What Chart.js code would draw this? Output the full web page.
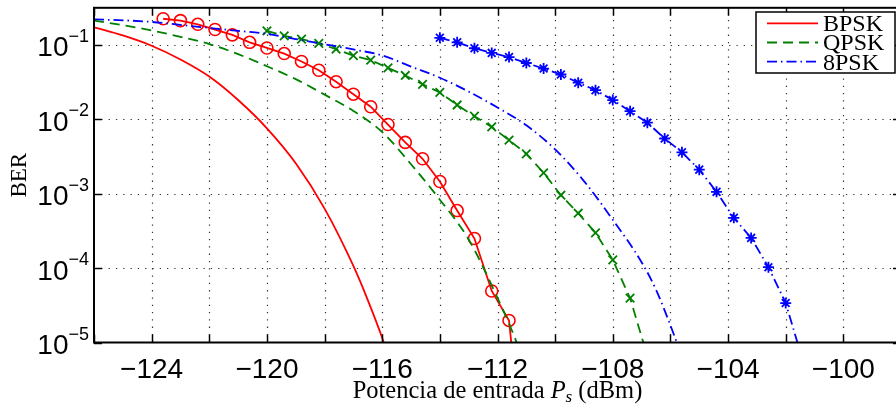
<!DOCTYPE html>
<html><head><meta charset="utf-8">
<script src="https://cdn.jsdelivr.net/npm/chart.js@4.4.1/dist/chart.umd.min.js"></script>
<style>
html,body{margin:0;padding:0;background:#fff;overflow:hidden;width:896px;height:412px}
#wrap{position:absolute;left:0;top:0;width:912px;height:412px}
</style>
</head><body><div id="wrap"><canvas id="c" width="912" height="412"></canvas></div>
<script>
// ---- axis ticks ----
const xTickValues = [-124, -120, -116, -112, -108, -104, -100];
const yTickValues = [1e-1, 1e-2, 1e-3, 1e-4, 1e-5];
const yTickExponents = ['\u22121', '\u22122', '\u22123', '\u22124', '\u22125'];
const legendLabels = ['BPSK', 'QPSK', '8PSK'];

// ---- theoretical curves (no markers) ----
const bpskTheoryPs  = [-126,-125,-124,-123,-122,-121,-120,-119,-118,-117,-116.5,-116,-115.5];
const bpskTheoryBER = [0.1730,0.1343,0.0977,0.0638,0.0376,0.0182,0.00759,0.00257,6.31e-4,1.07e-4,3.72e-5,1.15e-5,2.82e-6];

const qpskTheoryPs  = [-126,-125,-124,-123,-122,-121,-120,-119,-118,-117,-116,-115,-114,-113,-112,-111.5,-111];
const qpskTheoryBER = [0.2123,0.1845,0.1567,0.1288,0.1030,0.0753,0.0518,0.0347,0.0215,0.0130,0.00676,0.00249,8.32e-4,2.43e-4,3.98e-5,1.45e-5,4.57e-6];

const psk8TheoryPs  = [-126,-125,-124,-123,-122,-121,-120,-119,-118,-117,-116,-115,-114,-113,-112,-111,-110,-109,-108,-107,-106.5,-106,-105.5];
const psk8TheoryBER = [0.2208,0.2148,0.2042,0.1862,0.1698,0.1549,0.1413,0.1202,0.1023,0.0871,0.0724,0.0513,0.0363,0.0236,0.01445,0.00832,0.00394,0.00148,4.47e-4,1.20e-4,5.13e-5,1.70e-5,5.0e-6];

// ---- simulated points (markers) ----
const bpskSimPs  = [-123.6,-123.0,-122.4,-121.8,-121.2,-120.6,-120.0,-119.4,-118.8,-118.2,-117.6,-117.0,-116.4,-115.8,-115.2,-114.6,-114.0,-113.4,-112.8,-112.2,-111.6,-111.0];
const bpskSimBER = [0.2254,0.2123,0.1897,0.1614,0.1368,0.1086,0.0912,0.0767,0.0601,0.0457,0.0321,0.0218,0.0148,0.00853,0.00490,0.00295,0.00146,5.94e-4,2.50e-4,4.93e-5,1.98e-5,1e-7];

const qpskSimPs  = [-120.0,-119.4,-118.8,-118.2,-117.6,-117.0,-116.4,-115.8,-115.2,-114.6,-114.0,-113.4,-112.8,-112.2,-111.6,-111.0,-110.4,-109.8,-109.2,-108.6,-108.0,-107.4,-106.8];
const qpskSimBER = [0.1545,0.1327,0.1199,0.1054,0.0877,0.0721,0.0627,0.0491,0.0389,0.0296,0.0230,0.01560,0.01104,0.00791,0.00526,0.00344,0.00191,9.55e-4,5.47e-4,2.98e-4,1.29e-4,3.95e-5,6.6e-6];

const psk8SimPs  = [-114.0,-113.4,-112.8,-112.2,-111.6,-111.0,-110.4,-109.8,-109.2,-108.6,-108.0,-107.4,-106.8,-106.2,-105.6,-105.0,-104.4,-103.8,-103.2,-102.6,-102.0,-101.4];
const psk8SimBER = [0.1250,0.1086,0.0904,0.0783,0.0687,0.0573,0.0482,0.0401,0.0311,0.0247,0.01816,0.01288,0.00902,0.00553,0.00361,0.00211,0.00106,4.74e-4,2.55e-4,1.03e-4,3.39e-5,5.6e-6];

const pts = (xs, ys) => xs.map((v, i) => ({x: v, y: ys[i]}));

const RED = '#ff0000', GREEN = '#008000', BLUE = '#0000ff';
const DASH = [10, 6], DASHDOT = [10, 4, 1.5, 4];

const datasets = [
  {label: legendLabels[0], legend: true, data: pts(bpskTheoryPs, bpskTheoryBER), borderColor: RED, borderWidth: 1.8, pointRadius: 0, cubicInterpolationMode: 'monotone'},
  {label: legendLabels[1], legend: true, data: pts(qpskTheoryPs, qpskTheoryBER), borderColor: GREEN, borderWidth: 1.8, borderDash: DASH, pointRadius: 0, cubicInterpolationMode: 'monotone'},
  {label: legendLabels[2], legend: true, data: pts(psk8TheoryPs, psk8TheoryBER), borderColor: BLUE, borderWidth: 1.8, borderDash: DASHDOT, pointRadius: 0, cubicInterpolationMode: 'monotone'},
  {label: 'BPSK sim', data: pts(bpskSimPs, bpskSimBER), borderColor: RED, borderWidth: 1.8, pointStyle: 'circle', pointRadius: 6, pointBorderWidth: 1.6, pointBorderColor: RED, pointBackgroundColor: 'rgba(0,0,0,0)'},
  {label: 'QPSK sim', data: pts(qpskSimPs, qpskSimBER), borderColor: GREEN, borderWidth: 1.8, borderDash: DASH, pointStyle: 'crossRot', pointRadius: 6, pointBorderWidth: 1.8, pointBorderColor: GREEN, pointBackgroundColor: 'rgba(0,0,0,0)'},
  {label: '8PSK sim', data: pts(psk8SimPs, psk8SimBER), borderColor: BLUE, borderWidth: 1.8, borderDash: DASHDOT, pointStyle: 'star', pointRadius: 5.5, pointBorderWidth: 1.8, pointBorderColor: BLUE, pointBackgroundColor: 'rgba(0,0,0,0)'}
];

const CHART_RIGHT_PAD = 9;
const SANS = '"Liberation Sans", Arial, sans-serif';
const SERIF = '"Liberation Serif", "Times New Roman", serif';

const matlabPlugin = {
  id: 'matlab',
  beforeDatasetsDraw(chart) {
    const {ctx, chartArea: a, scales: {x, y}} = chart;
    ctx.save();
    ctx.strokeStyle = 'rgba(0,0,0,0.8)';
    ctx.lineWidth = 1.2;
    ctx.setLineDash([1.3, 6]);
    x.ticks.forEach(t => {
      const px = Math.round(x.getPixelForValue(t.value)) + 0.5;
      if (px <= a.left + 2 || px >= a.right - 2) return;
      ctx.beginPath(); ctx.moveTo(px, a.bottom); ctx.lineTo(px, a.top); ctx.stroke();
    });
    y.ticks.forEach(t => {
      const py = Math.round(y.getPixelForValue(t.value)) + 0.5;
      if (py <= a.top + 2 || py >= a.bottom - 2) return;
      ctx.beginPath(); ctx.moveTo(a.left, py); ctx.lineTo(a.right, py); ctx.stroke();
    });
    ctx.restore();
  },
  afterDatasetsDraw(chart) {
    const {ctx, chartArea: a, scales: {x, y}} = chart;
    ctx.save();
    const line = (x1, y1, x2, y2) => { ctx.beginPath(); ctx.moveTo(x1, y1); ctx.lineTo(x2, y2); ctx.stroke(); };
    // axes box
    ctx.setLineDash([]);
    ctx.strokeStyle = '#000';
    ctx.lineWidth = 2;
    ctx.strokeRect(a.left, a.top, a.right - a.left, a.bottom - a.top);
    // inward ticks
    ctx.lineWidth = 1.5;
    x.ticks.forEach(t => {
      const px = Math.round(x.getPixelForValue(t.value)) + 0.5;
      line(px, a.bottom, px, a.bottom - 8);
      line(px, a.top, px, a.top + 8);
    });
    y.ticks.forEach(t => {
      const py = Math.round(y.getPixelForValue(t.value)) + 0.5;
      line(a.left, py, a.left + 8, py);
      line(a.right, py, a.right - 8, py);
    });
    // y tick labels 10^e
    ctx.fillStyle = '#000';
    ctx.textBaseline = 'alphabetic';
    yTickValues.forEach((v, i) => {
      const py = y.getPixelForValue(v);
      const sup = yTickExponents[i];
      ctx.font = '18px ' + SANS;
      const sw = ctx.measureText(sup).width;
      const right = a.left - 5;
      ctx.textAlign = 'left';
      ctx.fillText(sup, right - sw, py - 3);
      ctx.font = '28px ' + SANS;
      ctx.textAlign = 'right';
      ctx.fillText('10', right - sw, py + 11.5);
    });
    // x axis title with italic P_s
    const parts = [
      {t: 'Potencia de entrada ', f: '24.5px ' + SERIF, dy: 0},
      {t: 'P', f: 'italic 24.5px ' + SERIF, dy: 0},
      {t: 's', f: 'italic 17px ' + SERIF, dy: 4},
      {t: ' (dBm)', f: '24.5px ' + SERIF, dy: 0}
    ];
    let total = 0;
    parts.forEach(p => { ctx.font = p.f; p.w = ctx.measureText(p.t).width; total += p.w; });
    let cx = (a.left + a.right) / 2 - total / 2;
    ctx.textAlign = 'left';
    parts.forEach(p => { ctx.font = p.f; ctx.fillText(p.t, cx, 398 + p.dy); cx += p.w; });
    // y axis title
    ctx.save();
    ctx.translate(26, (a.top + a.bottom) / 2);
    ctx.rotate(-Math.PI / 2);
    ctx.font = '23px ' + SERIF;
    ctx.textAlign = 'center';
    ctx.fillText('BER', 0, 0);
    ctx.restore();
    // legend
    const bx = 756, by = 12, bw = 139, bh = 61;
    ctx.fillStyle = '#fff';
    ctx.fillRect(bx, by, bw, bh);
    ctx.strokeStyle = '#000';
    ctx.lineWidth = 1.5;
    ctx.strokeRect(bx, by, bw, bh);
    const rows = [23.3, 42.5, 61.7];
    chart.data.datasets.filter(d => d.legend).forEach((d, i) => {
      ctx.strokeStyle = d.borderColor;
      ctx.lineWidth = d.borderWidth;
      ctx.setLineDash(d.borderDash || []);
      line(767, rows[i], 818, rows[i]);
      ctx.setLineDash([]);
      ctx.fillStyle = '#000';
      ctx.font = '24px ' + SERIF;
      ctx.textAlign = 'left';
      ctx.fillText(d.label, 823, rows[i] + 7.8);
    });
    ctx.restore();
  }
};

new Chart(document.getElementById('c'), {
  type: 'line',
  data: {datasets},
  options: {
    responsive: false,
    animation: false,
    events: [],
    layout: {padding: {left: 0, top: 2.5, right: CHART_RIGHT_PAD, bottom: 0}},
    plugins: {legend: {display: false}, tooltip: {enabled: false}},
    scales: {
      x: {
        type: 'linear', min: -126, max: -98,
        afterFit: s => { s.height = 412 - 342.5; },
        ticks: {
          stepSize: 2, autoSkip: false, maxRotation: 0, padding: 11, color: '#000',
          font: {family: SANS, size: 28},
          callback: v => xTickValues.includes(v) ? '\u2212' + Math.abs(v) : ''
        },
        grid: {display: false, drawTicks: false},
        border: {display: false}
      },
      y: {
        type: 'logarithmic', min: 1e-5, max: 0.31623,
        afterFit: s => { s.width = 94; },
        afterBuildTicks: s => { s.ticks = yTickValues.map(v => ({value: v})); },
        ticks: {display: false},
        grid: {display: false, drawTicks: false},
        border: {display: false}
      }
    }
  },
  plugins: [matlabPlugin]
});
</script>
</body></html>
